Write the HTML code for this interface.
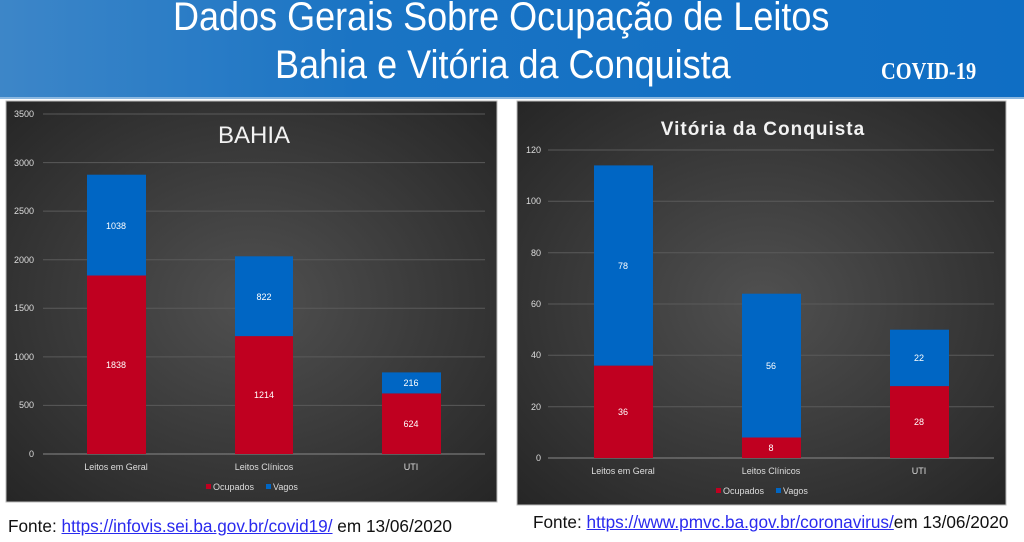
<!DOCTYPE html>
<html><head><meta charset="utf-8"><style>
body{margin:0;width:1024px;height:542px;background:#fff;position:relative;overflow:hidden;font-family:"Liberation Sans",sans-serif}
.hdr{position:absolute;left:0;top:0;width:1024px;height:97px;background:linear-gradient(90deg,#3d86c8 0%,#1a74c4 35%,#0f6ec4 100%)}
.hdr2{position:absolute;left:0;top:97px;width:1024px;height:2px;background:#8cb8e0}
.t{position:absolute;color:#fff;font-size:40px;line-height:40px;white-space:nowrap;transform:scaleX(0.9);transform-origin:0 0}
.cv{position:absolute;left:881px;top:60px;color:#fff;font-family:"Liberation Serif",serif;font-weight:bold;font-size:24px;line-height:24px;transform:scaleX(0.85);transform-origin:0 0}
.f{position:absolute;font-size:17.2px;color:#111;white-space:nowrap}
.f a{color:#2a2aee;text-decoration:underline}
</style></head><body>
<div class="hdr"></div><div class="hdr2"></div>
<div class="t" style="left:173px;top:-3px">Dados Gerais Sobre Ocupação de Leitos</div>
<div class="t" style="left:275px;top:45px">Bahia e Vitória da Conquista</div>
<div class="cv">COVID-19</div>
<svg width="1024" height="542" style="position:absolute;left:0;top:0" font-family="Liberation Sans, sans-serif">
<defs>
<radialGradient id="g" cx="0.5" cy="0.5" r="0.7"><stop offset="0" stop-color="#505050"/><stop offset="1" stop-color="#262626"/></radialGradient>
</defs>
<rect x="6" y="101" width="491" height="401" fill="url(#g)" stroke="#bbb" stroke-width="1"/>
<g stroke="#5a5a5a" stroke-width="1">
<line x1="43" x2="485" y1="114" y2="114"/><line x1="43" x2="485" y1="162.6" y2="162.6"/><line x1="43" x2="485" y1="211.1" y2="211.1"/><line x1="43" x2="485" y1="259.7" y2="259.7"/><line x1="43" x2="485" y1="308.3" y2="308.3"/><line x1="43" x2="485" y1="356.9" y2="356.9"/><line x1="43" x2="485" y1="405.4" y2="405.4"/>
</g>
<line x1="43" x2="485" y1="454" y2="454" stroke="#888"/>
<g fill="#ddd" font-size="9" text-anchor="end">
<text x="34" y="117">3500</text><text x="34" y="166">3000</text><text x="34" y="214">2500</text><text x="34" y="263">2000</text><text x="34" y="311">1500</text><text x="34" y="360">1000</text><text x="34" y="408">500</text><text x="34" y="457">0</text>
</g>
<text x="290" y="143" fill="#f2f2f2" font-size="24" text-anchor="end">BAHIA</text>
<rect x="87" y="275.5" width="59" height="178.5" fill="#c00020"/><rect x="87" y="174.7" width="59" height="100.8" fill="#0066c4"/>
<rect x="235" y="336.1" width="58" height="117.9" fill="#c00020"/><rect x="235" y="256.3" width="58" height="79.8" fill="#0066c4"/>
<rect x="382" y="393.4" width="59" height="60.6" fill="#c00020"/><rect x="382" y="372.4" width="59" height="21" fill="#0066c4"/>
<g fill="#fff" font-size="9" text-anchor="middle">
<text x="116" y="229">1038</text><text x="116" y="368">1838</text>
<text x="264" y="300">822</text><text x="264" y="398">1214</text>
<text x="411" y="386">216</text><text x="411" y="427">624</text>
</g>
<g fill="#ddd" font-size="9" text-anchor="middle">
<text x="116" y="470">Leitos em Geral</text><text x="264" y="470">Leitos Clínicos</text><text x="411" y="470">UTI</text>
</g>
<rect x="206" y="484" width="5" height="5" fill="#c00020"/><text x="213" y="490" fill="#ddd" font-size="9">Ocupados</text>
<rect x="266" y="484" width="5" height="5" fill="#0066c4"/><text x="273" y="490" fill="#ddd" font-size="9">Vagos</text>

<rect x="517" y="101" width="489" height="404" fill="url(#g)" stroke="#bbb" stroke-width="1"/>
<g stroke="#5a5a5a" stroke-width="1">
<line x1="548" x2="994" y1="150" y2="150"/><line x1="548" x2="994" y1="201.3" y2="201.3"/><line x1="548" x2="994" y1="252.7" y2="252.7"/><line x1="548" x2="994" y1="304" y2="304"/><line x1="548" x2="994" y1="355.3" y2="355.3"/><line x1="548" x2="994" y1="406.7" y2="406.7"/>
</g>
<line x1="548" x2="994" y1="458" y2="458" stroke="#888"/>
<g fill="#ddd" font-size="9" text-anchor="end">
<text x="541" y="153">120</text><text x="541" y="204">100</text><text x="541" y="256">80</text><text x="541" y="307">60</text><text x="541" y="358">40</text><text x="541" y="410">20</text><text x="541" y="461">0</text>
</g>
<text x="763" y="135" fill="#f2f2f2" font-size="19" font-weight="bold" text-anchor="middle" letter-spacing="1">Vitória da Conquista</text>
<rect x="594" y="365.6" width="59" height="92.4" fill="#c00020"/><rect x="594" y="165.4" width="59" height="200.2" fill="#0066c4"/>
<rect x="742" y="437.5" width="59" height="20.5" fill="#c00020"/><rect x="742" y="293.7" width="59" height="143.8" fill="#0066c4"/>
<rect x="890" y="386.1" width="59" height="71.9" fill="#c00020"/><rect x="890" y="329.7" width="59" height="56.4" fill="#0066c4"/>
<g fill="#fff" font-size="9" text-anchor="middle">
<text x="623" y="269">78</text><text x="623" y="415">36</text>
<text x="771" y="369">56</text><text x="771" y="451">8</text>
<text x="919" y="361">22</text><text x="919" y="425">28</text>
</g>
<g fill="#ddd" font-size="9" text-anchor="middle">
<text x="623" y="474">Leitos em Geral</text><text x="771" y="474">Leitos Clínicos</text><text x="919" y="474">UTI</text>
</g>
<rect x="716" y="488" width="5" height="5" fill="#c00020"/><text x="723" y="494" fill="#ddd" font-size="9">Ocupados</text>
<rect x="776" y="488" width="5" height="5" fill="#0066c4"/><text x="783" y="494" fill="#ddd" font-size="9">Vagos</text>
</svg>
<div class="f" style="left:8px;top:516px">Fonte: <a>https://infovis.sei.ba.gov.br/covid19/</a> em 13/06/2020</div>
<div class="f" style="left:533px;top:512px">Fonte: <a>https://www.pmvc.ba.gov.br/coronavirus/</a>em 13/06/2020</div>
</body></html>
